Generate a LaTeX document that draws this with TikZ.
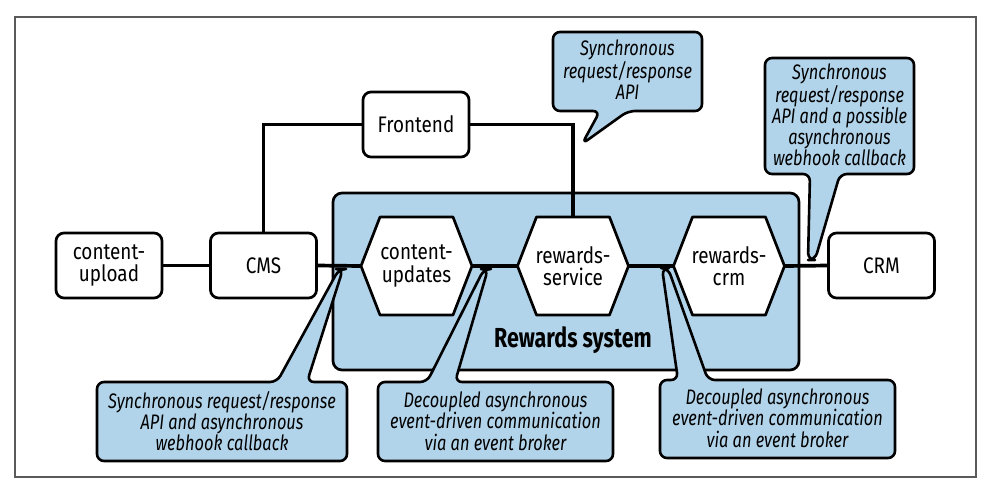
\documentclass[tikz,border=0pt]{standalone}
\usepackage{fontspec}
\setmainfont{Fira Sans}[FakeStretch=0.78]
\newfontfamily\nodefont{Fira Sans}[FakeStretch=0.84]
\definecolor{callblue}{RGB}{178,212,234}
\definecolor{framegray}{RGB}{90,90,90}
\pgfdeclarelayer{back}
\pgfdeclarelayer{mid}
\pgfsetlayers{back,mid,main}
\tikzset{
  box/.style={draw, line width=2.7pt, rounded corners=8pt, fill=white,
    minimum width=106pt, minimum height=65pt, align=center, inner sep=0pt, outer sep=0pt,
    font=\nodefont\fontsize{22.5}{22.5}\selectfont},
  hexnode/.style={minimum width=111pt, minimum height=98pt, align=center, inner sep=0pt, outer sep=0pt,
    font=\nodefont\fontsize{22.5}{22.5}\selectfont},
  hexline/.style={draw, line width=2.7pt, fill=white, line join=round},
  conn/.style={line width=3.7pt},
  callout/.style={draw, line width=2.6pt, fill=callblue, rounded corners=7pt, line join=round},
  calltext/.style={align=center, inner sep=0pt, font=\fontsize{21}{21.3}\selectfont\itshape},
  sysbox/.style={draw, line width=2.7pt, fill=callblue, rounded corners=9pt}
}
\begin{document}
\begin{tikzpicture}[x=1pt,y=-1pt]
\useasboundingbox (0,0) rectangle (990,490);
\begin{pgfonlayer}{back}
\fill[white] (0,0) rectangle (990,490);
\draw[framegray, line width=1.4pt] (15,17) rectangle (976,477);
\draw[sysbox] (333,193) rectangle (799,370);
\end{pgfonlayer}
\node[font=\fontsize{27.5}{28}\selectfont\bfseries] (sys) at (573,340) {Rewards system};

% rectangular nodes
\node[box] (cup) at (109,265.5) {content-\\upload};
\node[box] (cms) at (263.5,265.5) {CMS};
\node[box] (fe) at (416,124.5) {Frontend};
\node[box] (crm) at (881.5,265.5) {CRM};

% hexagon nodes
\node[hexnode] (cu) at (416.5,266) {content-\\updates};
\node[hexnode] (rs) at (573,266) {rewards-\\service};
\node[hexnode] (rc) at (729,266) {rewards-\\crm};
\begin{pgfonlayer}{mid}
\foreach \n in {cu,rs,rc}{
  \draw[hexline] (\n.west) -- ([xshift=19pt]\n.north west) -- ([xshift=-19pt]\n.north east)
    -- (\n.east) -- ([xshift=-19pt]\n.south east) -- ([xshift=19pt]\n.south west) -- cycle;
}
\end{pgfonlayer}

% connectors
\draw[conn] (cup.east) -- (cms.west);
\draw[conn] (cms.east) -- (cu.west);
\draw[conn] (cu.east) -- (rs.west);
\draw[conn] (rs.east) -- (rc.west);
\draw[conn] (rc.east) -- (crm.west);
\draw[conn] (fe.west) -| (cms.north);
\draw[conn] (fe.east) -| (rs.north);

% callouts
\draw[callout] (553,32) -- (702,32) -- (702,111) -- (628,111) -- (582,144) -- (600,111) -- (553,111) -- cycle;
\node[calltext] (c1) at (627.5,70) {Synchronous\\request/response\\API};

\draw[callout] (765,58) -- (914,58) -- (914,174) -- (840,174) -- (815,260) -- (808,260) -- (810,174) -- (765,174) -- cycle;
\node[calltext] (c2) at (839.5,115) {Synchronous\\request/response\\API and a possible\\asynchronous\\webhook callback};

\draw[callout] (97,382) -- (277,382) -- (339,269) -- (343,269) -- (307,382) -- (347,382) -- (347,461) -- (97,461) -- cycle;
\node[calltext] (c3) at (222,421) {Synchronous request/response\\API and asynchronous\\webhook callback};

\draw[callout] (378,382) -- (427,382) -- (484,269) -- (488,269) -- (455,382) -- (613,382) -- (613,461) -- (378,461) -- cycle;
\node[calltext] (c4) at (495.5,421) {Decoupled asynchronous\\event-driven communication\\via an event broker};

\draw[callout] (660,380) -- (678,380) -- (662,268) -- (668,268) -- (708,380) -- (895,380) -- (895,458) -- (660,458) -- cycle;
\node[calltext] (c5) at (777.5,418) {Decoupled asynchronous\\event-driven communication\\via an event broker};
\end{tikzpicture}
\end{document}
